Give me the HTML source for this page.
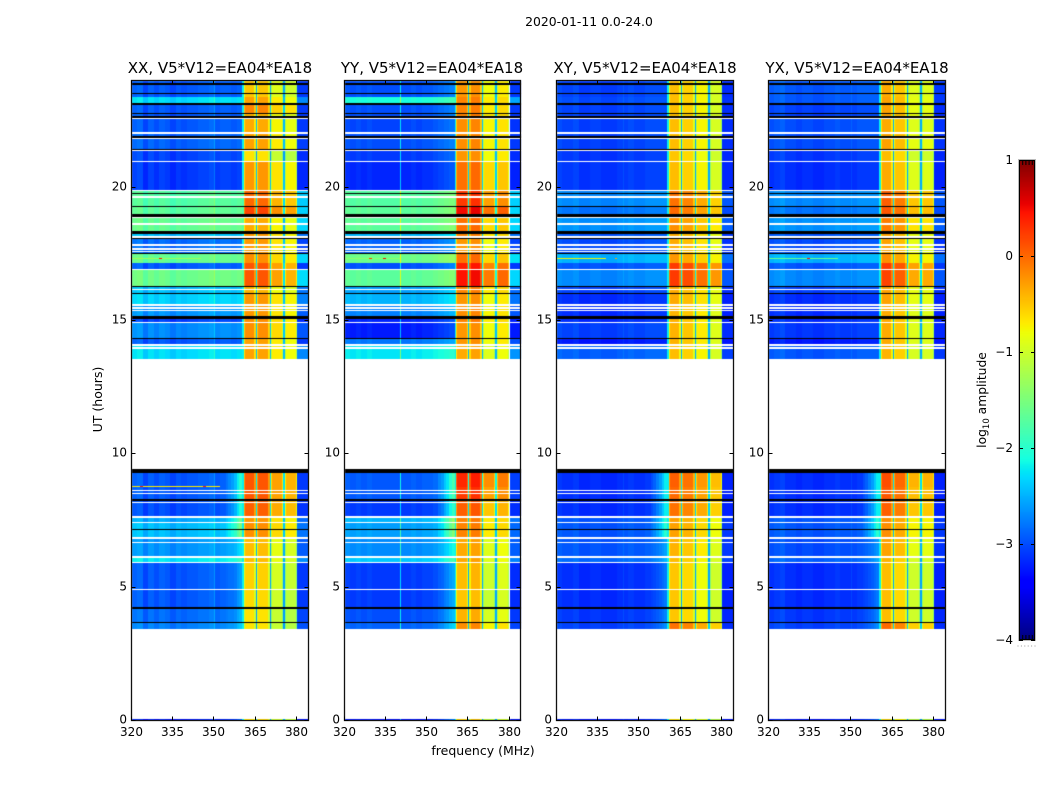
<!DOCTYPE html>
<html>
<head>
<meta charset="utf-8">
<style>
html,body{margin:0;padding:0;background:#fff;}
#stage{position:relative;width:1050px;height:800px;overflow:hidden;background:#fff;font-family:"DejaVu Sans","Liberation Sans",sans-serif;}
canvas{position:absolute;display:block;}
svg{position:absolute;left:0;top:0;}
</style>
</head>
<body>
<div id="stage">
<canvas id="hm0" style="left:131px;top:80px" width="178" height="641"></canvas>
<canvas id="hm1" style="left:344px;top:80px" width="178" height="641"></canvas>
<canvas id="hm2" style="left:556px;top:80px" width="178" height="641"></canvas>
<canvas id="hm3" style="left:768px;top:80px" width="178" height="641"></canvas>
<canvas id="cbar" style="left:1019px;top:160px" width="16" height="480"></canvas>
<svg id="overlay" width="1050" height="800">
<text x="589" y="26" font-size="12.4" text-anchor="middle" fill="#000">2020-01-11 0.0-24.0</text>
<text x="220" y="73" font-size="15" text-anchor="middle" fill="#000">XX, V5*V12=EA04*EA18</text>
<text x="432" y="73" font-size="15" text-anchor="middle" fill="#000">YY, V5*V12=EA04*EA18</text>
<text x="645" y="73" font-size="15" text-anchor="middle" fill="#000">XY, V5*V12=EA04*EA18</text>
<text x="857" y="73" font-size="15" text-anchor="middle" fill="#000">YX, V5*V12=EA04*EA18</text>
<text x="483" y="755" font-size="12.5" text-anchor="middle" fill="#000">frequency (MHz)</text>
<text transform="translate(102,399.5) rotate(-90)" font-size="12.5" text-anchor="middle" fill="#000">UT (hours)</text>
<text transform="translate(986,400) rotate(-90)" font-size="12.3" text-anchor="middle" fill="#000">log<tspan font-size="8.5" dy="3">10</tspan><tspan dy="-3"> amplitude</tspan></text>
</svg>
</div>
<script>
/* ---------- chart data ---------- */
const polarizations = ['xx','yy','xy','yx'];
const xTicks = [320,335,350,365,380];
const yTicks = [0,5,10,15,20];
const colorTicks = [1,0,-1,-2,-3,-4];

/* observation time bands: upper and lower UT hour */
const bandTop = [24,23.4,23.1,22.73,22.54,22.01,21.34,20.93,19.88,19.24,18.98,18.3,18.11,17.48,17.14,16.88,16.24,15.98,15.56,15.11,14.89,14.29,14.06, 9.34,8.74,8.25,7.61,7.39,6.83,6.11,5.89,4.88,4.2,3.64, 0.07];
const bandBottom = [23.4,23.1,22.73,22.54,22.01,21.34,20.93,19.88,19.24,18.98,18.3,18.11,17.48,17.14,16.88,16.24,15.98,15.56,15.11,14.89,14.29,14.06,13.54, 8.74,8.25,7.61,7.39,6.83,6.11,5.89,4.88,4.2,3.64,3.45, 0];

/* log10 amplitude of the quiet part of the band (320-360 MHz), per time band */
const backgroundXX = [-3.0,-2.35,-3.0,-3.0,-3.0,-2.95,-3.1,-3.15,-1.8,-1.75,-1.7,-2.5,-2.9,-1.7,-3.0,-1.65,-2.5,-2.4,-2.7,-3.1,-2.75,-3.0,-2.35,-3.0,-3.0,-3.05,-2.6,-2.5,-2.7,-2.3,-3.0,-3.0,-2.9,-2.8,-3.3];
const backgroundYY = [-3.0,-2.1,-3.0,-3.0,-3.05,-3.0,-3.1,-3.2,-1.75,-1.7,-1.7,-2.5,-2.9,-1.6,-3.0,-1.7,-2.6,-2.5,-2.75,-3.2,-3.25,-2.8,-2.25,-2.95,-2.95,-3.1,-2.5,-2.6,-2.7,-2.4,-3.1,-3.1,-3.0,-2.9,-3.3];
const backgroundXY = [-3.1,-3.05,-3.1,-3.1,-3.1,-3.1,-3.15,-3.15,-2.75,-2.85,-2.7,-3.0,-3.05,-2.55,-3.0,-2.75,-3.1,-3.2,-3.2,-3.2,-3.1,-3.3,-2.95,-3.2,-3.2,-3.2,-3.0,-3.0,-3.0,-2.9,-3.2,-3.2,-3.15,-3.1,-3.3];
const backgroundYX = [-3.0,-3.0,-3.1,-3.1,-3.05,-3.05,-3.15,-3.2,-2.75,-2.85,-2.7,-3.0,-3.05,-2.55,-3.0,-2.75,-3.1,-3.2,-3.2,-3.2,-3.15,-3.3,-3.0,-3.2,-3.2,-3.2,-3.0,-3.0,-3.05,-2.95,-3.2,-3.2,-3.15,-3.1,-3.3];

/* log10 amplitude of the strong band (360-380 MHz), per time band */
const signalXX = [-0.6,-0.4,-0.25,-0.5,-0.45,-0.4,-0.75,-0.35,-0.1,0.1,-0.45,-0.35,-0.35,-0.3,0.0,0.0,-0.5,-0.35,-0.35,-0.3,-0.3,-0.4,-0.4,0.0,0.0,-0.05,-0.35,-0.3,-0.55,-0.55,-0.65,-0.7,-0.75,-0.75,-0.7];
const signalYY = [-0.4,-0.3,-0.3,-0.3,-0.35,-0.35,-0.4,-0.2,0.1,0.35,-0.2,-0.3,-0.4,-0.2,0.25,0.3,-0.3,-0.4,-0.35,-0.3,-0.4,-0.4,-0.5,0.2,0.1,-0.1,-0.3,-0.3,-0.5,-0.5,-0.6,-0.65,-0.55,-0.35,-0.7];
const signalXY = [-0.6,-0.6,-0.6,-0.6,-0.6,-0.6,-0.65,-0.6,-0.2,-0.15,-0.35,-0.5,-0.5,-0.4,0.1,0.1,-0.5,-0.5,-0.55,-0.55,-0.55,-0.55,-0.6,-0.1,-0.15,-0.2,-0.45,-0.45,-0.55,-0.6,-0.65,-0.65,-0.65,-0.2,-0.8];
const signalYX = [-0.55,-0.5,-0.5,-0.5,-0.55,-0.5,-0.65,-0.55,-0.15,-0.1,-0.3,-0.5,-0.5,-0.4,0.05,0.0,-0.5,-0.5,-0.55,-0.55,-0.55,-0.55,-0.6,-0.05,-0.1,-0.15,-0.4,-0.4,-0.5,-0.6,-0.65,-0.65,-0.65,-0.2,-0.8];

/* per spectral-window offset, four windows: 360.5-365, 365-370, 370-375, 375-380 MHz */
const windowStart = [360.5,365.4,370.4,375.4];
const windowEnd = [364.9,369.9,374.9,379.9];
const windowOffsetXX = [0.1,0.1,-0.3,-0.4];
const windowOffsetYY = [0.15,0.2,-0.4,-0.3];
const windowOffsetXY = [0.15,0.05,-0.15,-0.35];
const windowOffsetYX = [0.2,0.05,-0.35,-0.35];
const windowGapLevel = [-2.5,-2.5,-2.5,-2.5];
const windowRimDrop = [0.35,0.35,0.35,0.35];

/* 2-MHz spectral shape of the quiet band, 320-360 MHz */
const shapeXX = [0.1,0.15,-0.05,0.1,0,0.1,0.05,-0.05,0.05,0,0.05,0.05,0.1,0.1,0.15,0.05,0.1,0.1,0.05,0.1];
const shapeYY = [0.05,0,0.05,0,0.05,0,0,0,0,0,0,0,0.05,0,0.05,0.05,0.1,0.15,0.2,0.25];
const shapeXY = [0.1,0.05,0.05,0.1,0,0,0.05,0.05,0,0,0,0.05,0.05,0.1,0.05,0.05,0.1,0.1,0.1,0.1];
const shapeYX = [0.05,0.1,0.15,0.05,0.05,0,0.05,0.05,0,0,0.05,0.05,0.1,0.05,0.05,0.05,0.1,0.1,0.1,0.1];

/* rise toward the strong band during the 03-09 UT block, 354-360 MHz */
const rampMHz = [354,355,356,357,358,359,360];
const rampLift = [0.1,0.2,0.35,0.5,0.7,0.9,1.0];

/* white: flagged, no data (UT hour, duration) */
const gapHour = [22.54,22.01,21.79,21.34,20.93,19.84,19.61,18.83,18.60,18.11,17.78,17.66,17.55,16.88,16.13,15.56,15.45,15.34,14.89,14.06,13.95,8.59,8.48,8.14,7.61,7.39,6.79,6.64,6.11,5.89,4.88];
const gapLength = [0.056,0.056,0.056,0.056,0.056,0.056,0.056,0.056,0.056,0.056,0.075,0.056,0.056,0.056,0.056,0.056,0.056,0.056,0.056,0.075,0.056,0.056,0.056,0.056,0.075,0.056,0.075,0.056,0.075,0.056,0.056];

/* black: zero amplitude records (UT hour, duration) */
const zeroHour = [23.85,23.48,23.10,22.73,22.61,21.86,21.41,19.76,19.24,18.90,18.25,18.04,17.48,16.24,15.98,15.05,14.29,9.27,8.25,7.13,4.20,3.64];
const zeroLength = [0.04,0.04,0.04,0.04,0.06,0.05,0.04,0.04,0.05,0.11,0.11,0.04,0.04,0.04,0.04,0.11,0.05,0.15,0.04,0.04,0.04,0.04];

/* short interference streaks: panel index, UT hour, start MHz, end MHz, level */
const rfiPanel = [0,0,0,0,0,1,1,1,2,2,3,3];
const rfiHour = [8.78,8.78,8.78,17.33,17.33,17.33,17.33,17.33,17.33,17.33,17.33,17.33];
const rfiStart = [320,323,346,320,330,320,329,334,320,341,320,334];
const rfiEnd = [352,324,347,345,331,340,330,335,338,342,345,335];
const rfiLevel = [-0.7,0.4,0.4,-1.3,0.4,-1.4,0.2,0.5,-0.75,-0.3,-1.6,0.4];

/* persistent narrow channels: panel index, MHz, added level */
const lineChannelPanel = [0,1,2,3];
const lineChannelMHz = [350,340,344,350];
const lineChannelLift = [0.35,0.8,0.15,0.15];

const allBackground = [backgroundXX,backgroundYY,backgroundXY,backgroundYX];
const allSignal = [signalXX,signalYY,signalXY,signalYX];
const allWindowOffset = [windowOffsetXX,windowOffsetYY,windowOffsetXY,windowOffsetYX];
const allShape = [shapeXX,shapeYY,shapeXY,shapeYX];

/* ---------- axis functions and colour map ---------- */
const panelLeft = [131.5,344.5,556.5,768.5];
const panelRight = [308.5,520.5,733.5,945.5];
const canvasLeft = [131,344,556,768];
const plotTop = 80.5, plotBottom = 720.5;
const fMin = 320, fMax = 384, hMin = 0, hMax = 24;
function xScale(p,f){return panelLeft[p]+(f-fMin)/(fMax-fMin)*(panelRight[p]-panelLeft[p]);}
function yScale(h){return plotBottom-(h-hMin)/(hMax-hMin)*(plotBottom-plotTop);}
function seg(t,pts){
  for(let i=0;i<pts.length-1;i++){
    if(t<=pts[i+1][0]){const a=pts[i],b=pts[i+1];return a[1]+(b[1]-a[1])*(t-a[0])/(b[0]-a[0]);}
  }
  return pts[pts.length-1][1];
}
function jet(v){
  const t=Math.max(0,Math.min(1,(v+4)/5));
  const r=seg(t,[[0,0],[0.35,0],[0.66,1],[0.89,1],[1,0.5]]);
  const g=seg(t,[[0,0],[0.125,0],[0.375,1],[0.64,1],[0.91,0],[1,0]]);
  const b=seg(t,[[0,0.5],[0.11,1],[0.34,1],[0.65,0],[1,0]]);
  return 'rgb('+Math.round(r*255)+','+Math.round(g*255)+','+Math.round(b*255)+')';
}

/* ---------- heatmaps ---------- */
polarizations.forEach(function(pol,p){
  const ctx=document.getElementById('hm'+p).getContext('2d');
  const ox=canvasLeft[p], oy=80;
  function cell(f0,f1,h0,h1,level,color){
    const x0=Math.round(xScale(p,f0)-ox), x1=Math.max(x0+1,Math.round(xScale(p,f1)-ox));
    const y0=Math.round(yScale(h1)-oy), y1=Math.max(y0+1,Math.round(yScale(h0)-oy));
    ctx.fillStyle=color||jet(level);
    ctx.fillRect(x0,y0,x1-x0,y1-y0);
  }
  bandTop.forEach(function(top,b){
    const bottom=bandBottom[b], bg=allBackground[p][b], sig=allSignal[p][b];
    for(let f=fMin;f<360;f++){
      let lv=bg+allShape[p][Math.floor((f-fMin)/2)];
      const r=rampMHz.indexOf(f);
      if(r>=0 && top<10) lv=lv+rampLift[r]*(top>6.9?1:0.35);
      cell(f,f+1,bottom,top,lv);
    }
    const edge=bg*0.6-1.3;
    cell(380,fMax,bottom,top,edge);
    cell(360,360.6,bottom,top,Math.max(bg,-2.2));
    windowStart.forEach(function(w0,w){
      const main=sig+allWindowOffset[p][w];
      cell(w0,windowEnd[w],bottom,top,main-windowRimDrop[w]);
      cell(w0+0.5,windowEnd[w]-0.5,bottom,top,main);
    });
    windowStart.forEach(function(w0,w){
      if(w<3) cell(windowEnd[w],windowStart[w+1],bottom,top,windowGapLevel[w]+(sig+0.5)*0.5);
    });
    lineChannelPanel.forEach(function(lp,i){
      if(lp===p) cell(lineChannelMHz[i],lineChannelMHz[i]+0.36,bottom,top,bg+lineChannelLift[i]);
    });
  });
  rfiPanel.forEach(function(rp,i){
    if(rp===p) cell(rfiStart[i],rfiEnd[i],rfiHour[i],rfiHour[i]+0.03,rfiLevel[i]);
  });
  zeroHour.forEach(function(h,i){cell(fMin,fMax,h,h+zeroLength[i],0,'#000');});
  gapHour.forEach(function(h,i){cell(fMin,fMax,h,h+gapLength[i],0,'#fff');});
});

/* ---------- colorbar ---------- */
(function(){
  const ctx=document.getElementById('cbar').getContext('2d');
  for(let y=0;y<480;y++){ctx.fillStyle=jet(1-5*(y+0.5)/480);ctx.fillRect(0,y,16,1);}
})();

/* ---------- axes ---------- */
const svg=document.getElementById('overlay');
const NS='http://www.w3.org/2000/svg';
function addLine(x1,y1,x2,y2,name,stroke,width){
  const el=document.createElementNS(NS,'line');
  el.setAttribute('x1',x1);el.setAttribute('y1',y1);el.setAttribute('x2',x2);el.setAttribute('y2',y2);
  el.setAttribute('stroke',stroke||'#000');el.setAttribute('stroke-width',width||1);
  
  
  svg.appendChild(el);
}
function addText(x,y,str,anchor,name){
  const el=document.createElementNS(NS,'text');
  el.setAttribute('x',x);el.setAttribute('y',y);el.setAttribute('font-size','12');
  el.setAttribute('text-anchor',anchor);el.setAttribute('fill','#000');
  el.textContent=str;
  
  
  svg.appendChild(el);
}
function addBox(x,y,w,h,name,stroke,width){
  const el=document.createElementNS(NS,'rect');
  el.setAttribute('x',x);el.setAttribute('y',y);el.setAttribute('width',w);el.setAttribute('height',h);
  el.setAttribute('fill','none');el.setAttribute('stroke',stroke);el.setAttribute('stroke-width',width||1);
  
  
  svg.appendChild(el);
}
polarizations.forEach(function(pol,p){
  addBox(panelLeft[p],plotTop,panelRight[p]-panelLeft[p],plotBottom-plotTop,'plot-frame-'+pol,'#111',1.3);
  xTicks.forEach(function(t){
    const x=Math.round(xScale(p,t))-0.5;
    addLine(x,plotBottom,x,plotBottom-4,'x-tick-'+pol);
    addLine(x,plotTop,x,plotTop+4,'x-tick-top-'+pol);
    addText(x,736,String(t),'middle','x-tick-label-'+pol);
  });
  yTicks.forEach(function(t){
    const y=Math.round(yScale(t)-0.5)+0.5;
    addLine(panelLeft[p],y,panelLeft[p]+4,y,'y-tick-'+pol);
    addLine(panelRight[p],y,panelRight[p]-4,y,'y-tick-right-'+pol);
    addText(panelLeft[p]-4.5,y+3,String(t),'end','y-tick-label-'+pol);
  });
});
addBox(1018.5,159.5,17,481,'colorbar-halo','#bbb');
addBox(1019.5,160.5,15,479,'colorbar-frame','#000');
colorTicks.forEach(function(t){
  const y=Math.round(160+(1-t)/5*480)+0.5;
  addLine(1019,y,1023,y,'colorbar-tick');
  addLine(1031,y,1035,y,'colorbar-tick-right');
  addText(1013,y+3.5,t<0?'\u2212'+(-t):String(t),'end','colorbar-tick-label');
});
for(let i=1;i<5;i++){
  const x=1019.5+i*3.2;
  addLine(x,160,x,165,'colorbar-minor-tick-top');
  addLine(x,635,x,640,'colorbar-minor-tick-bottom');
}
for(let i=0;i<6;i++){
  const x=1017.5+i*3.4;
  addLine(x,646,x+1,646,'colorbar-offset-dot','#999');
}
</script>
</body>
</html>
